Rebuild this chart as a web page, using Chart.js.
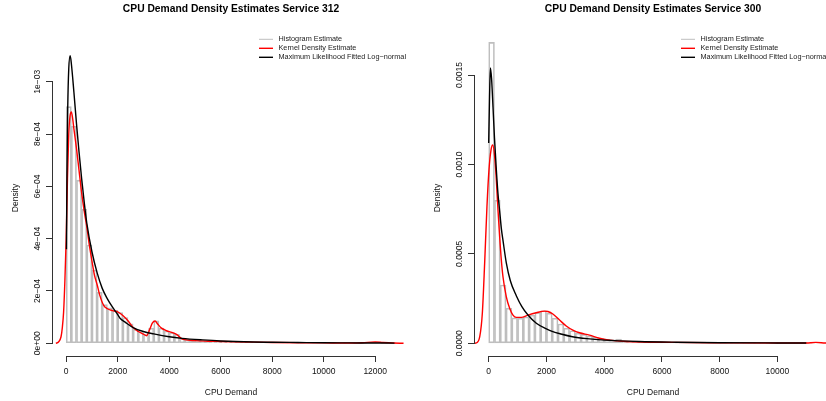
<!DOCTYPE html>
<html>
<head>
<meta charset="utf-8">
<script src="https://cdn.jsdelivr.net/npm/chart.js@4.4.1/dist/chart.umd.min.js"></script>
<style>
  html, body { margin: 0; padding: 0; background: #fff; }
  #wrap { position: relative; width: 826px; height: 401px; overflow: hidden; background: #fff; }
  canvas { position: absolute; top: 0; }
  #c312 { left: 0; }
  #c300 { left: 422px; }
</style>
</head>
<body>
<div id="wrap">
  <canvas id="c312" width="422" height="401"></canvas>
  <canvas id="c300" width="422" height="401"></canvas>
</div>
<script>
// all density values below are in units of 1e-4
const binWidth = 200;

// Service 312
const histLeft = [9.05, 8.3, 6.24, 5.12, 3.76, 2.8, 1.95, 1.48, 1.36, 1.26,
  1.17, 0.98, 0.74, 0.53, 0.45, 0.33, 0.58, 0.86, 0.58, 0.47,
  0.41, 0.34, 0.19, 0.15, 0.12, 0.10, 0.09, 0.08, 0.07, 0.06,
  0.05, 0.05, 0.045, 0.04, 0.035, 0.03, 0.03, 0.025, 0.025, 0.02,
  0.02, 0.02, 0.015, 0.015, 0.015, 0.01, 0.01, 0.01, 0.01, 0.01,
  0.01, 0.01, 0.01, 0.01, 0.005, 0.005, 0.01, 0.02, 0.03, 0.02,
  0.03, 0.02, 0.01, 0.005];
const kdeLeftX = [-400, -300, -200, -150, -100, -50, 0, 50, 100, 150, 200, 250, 300,
  400, 500, 600, 700, 800, 900, 1000, 1100, 1200, 1300, 1450, 1600, 1800, 2000,
  2200, 2400, 2600, 2800, 3000, 3120, 3250, 3350, 3450, 3550, 3700, 3900,
  4100, 4300, 4450, 4600, 5000, 5500, 6000, 7000, 8000, 9000, 10000,
  11000, 11500, 12000, 12300, 12700, 13100];
const kdeLeftY = [0, 0.05, 0.25, 0.6, 1.2, 2.4, 4.0, 6.3, 8.0, 8.7, 8.85, 8.6, 8.2,
  7.45, 6.6, 5.75, 5.05, 4.46, 3.75, 3.15, 2.6, 2.25, 1.85, 1.46, 1.32, 1.25, 1.2,
  1.06, 0.86, 0.6, 0.45, 0.35, 0.29, 0.55, 0.78, 0.85, 0.74, 0.58, 0.48,
  0.42, 0.33, 0.2, 0.14, 0.1, 0.08, 0.07, 0.05, 0.03, 0.02, 0.015,
  0.01, 0.02, 0.05, 0.03, 0.01, 0];
const lnLeftX = [10, 30, 60, 100, 155, 200, 300, 400, 500, 600, 700, 800, 1000, 1200, 1400,
  1600, 1800, 2000, 2100, 2300, 2600, 3000, 3400, 4000, 4500, 5300, 6000, 7260, 8000, 9000,
  10000, 11000, 12000, 12750];
const lnLeftY = [3.6, 6.5, 9.0, 10.5, 11.0, 10.7, 9.6, 8.4, 7.3, 6.3, 5.4, 4.6, 3.5, 2.7, 2.1,
  1.7, 1.38, 1.1, 0.95, 0.8, 0.6, 0.45, 0.36, 0.25, 0.19, 0.13, 0.09, 0.05, 0.04, 0.03,
  0.02, 0.015, 0.01, 0.008];

// Service 300
const histRight = [16.83, 8.0, 3.26, 1.96, 1.42, 1.40, 1.48, 1.58, 1.72, 1.82,
  1.68, 1.40, 1.08, 0.84, 0.70, 0.56, 0.50, 0.41, 0.34, 0.26,
  0.22, 0.19, 0.24, 0.13, 0.11, 0.09, 0.08, 0.07, 0.06, 0.05,
  0.05, 0.04, 0.04, 0.035, 0.03, 0.03, 0.025, 0.025, 0.02, 0.02,
  0.02, 0.015, 0.015, 0.015, 0.01, 0.01, 0.01, 0.01, 0.01, 0.01,
  0.01, 0.005, 0.005, 0.005, 0.005, 0.01, 0.03];
const kdeRightX = [-550, -430, -310, -220, -140, -60, 10, 80, 138, 207, 265, 322, 380, 438, 495,
  611, 726, 841, 957, 1130, 1360, 1648, 1935, 2050, 2223, 2454, 2685, 2914, 3146, 3491,
  3837, 4183, 4760, 6370, 8000, 10000, 11000, 11330, 11650, 11900];
const kdeRightY = [0, 0.02, 0.37, 1.68, 4.47, 7.64, 9.7, 10.8, 11.09, 10.44, 9.13, 7.45, 5.96, 4.66, 3.72,
  2.6, 1.96, 1.58, 1.45, 1.45, 1.58, 1.71, 1.8, 1.78, 1.64, 1.3, 0.97, 0.74, 0.59, 0.46,
  0.28, 0.18, 0.1, 0.05, 0.03, 0.015, 0.02, 0.05, 0.02, 0.01];
const lnRightX = [0, 30, 60, 100, 150, 200, 265, 320, 380, 440, 500, 610, 750, 960, 1150,
  1360, 1650, 2000, 2220, 2500, 2900, 3400, 4000, 5200, 6500, 8000, 10000, 11000];
const lnRightY = [11.2, 13.8, 15.4, 14.8, 13.2, 11.5, 9.7, 8.4, 7.4, 6.4, 5.7, 4.5, 3.5, 2.65, 2.05,
  1.58, 1.12, 0.8, 0.65, 0.52, 0.37, 0.26, 0.18, 0.1, 0.06, 0.035, 0.02, 0.015];

// ticks
const xTicksLeft = [0, 2000, 4000, 6000, 8000, 10000, 12000];
const xTicksRight = [0, 2000, 4000, 6000, 8000, 10000];
const yTicksLeft = [0, 2e-4, 4e-4, 6e-4, 8e-4, 1e-3];
const yLabelsLeft = ['0e+00', '2e\u221204', '4e\u221204', '6e\u221204', '8e\u221204', '1e\u221203'];
const yTicksRight = [0, 5e-4, 1e-3, 1.5e-3];
const yLabelsRight = ['0.0000', '0.0005', '0.0010', '0.0015'];

const legendLabels = ['Histogram Estimate', 'Kernel Density Estimate', 'Maximum Likelihood Fitted Log\u2212normal'];

const FAMILY = '"Liberation Sans", Arial, Helvetica, sans-serif';
const TEXT = '#111';
const AXIS = '#333';
const HIST = '#BEBEBE';
const RED = '#FF0000';
const BLACK = '#000000';

const pts = (xs, ys) => xs.map((x, i) => ({ x: x, y: ys[i] * 1e-4 }));
const bars = hs => hs.map((h, i) => ({ x: i * binWidth + binWidth / 2, y: h * 1e-4 }));

// R-like decorations: axis lines only across the tick range, rotated y labels, legend
const rStyle = {
  id: 'rStyle',
  afterDraw(chart, args, o) {
    const { ctx, chartArea: a } = chart;
    const x = chart.scales.x, y = chart.scales.y;
    ctx.save();
    ctx.strokeStyle = AXIS;
    ctx.lineWidth = 1;
    ctx.beginPath();
    const by = Math.round(a.bottom) + 0.5;
    ctx.moveTo(x.getPixelForValue(o.xTicks[0]), by);
    ctx.lineTo(x.getPixelForValue(o.xTicks[o.xTicks.length - 1]), by);
    const lx = Math.round(a.left) - 0.5;
    ctx.moveTo(lx, y.getPixelForValue(o.yTicks[0]));
    ctx.lineTo(lx, y.getPixelForValue(o.yTicks[o.yTicks.length - 1]));
    ctx.stroke();

    ctx.fillStyle = TEXT;
    ctx.font = '8.5px ' + FAMILY;
    ctx.textAlign = 'center';
    ctx.textBaseline = 'middle';
    o.yTicks.forEach((v, i) => {
      ctx.save();
      ctx.translate(a.left - 15, y.getPixelForValue(v));
      ctx.rotate(-Math.PI / 2);
      ctx.fillText(o.yLabels[i], 0, 0);
      ctx.restore();
    });

    // legend, top right of the plot region
    const colors = [HIST, RED, BLACK];
    const widths = [1, 1.4, 1.4];
    ctx.font = '7.3px ' + FAMILY;
    ctx.textAlign = 'left';
    legendLabels.forEach((lab, i) => {
      const ly = 39.3 + i * 9;
      ctx.strokeStyle = colors[i];
      ctx.lineWidth = widths[i];
      ctx.beginPath();
      ctx.moveTo(a.right - 150, ly);
      ctx.lineTo(a.right - 136, ly);
      ctx.stroke();
      ctx.fillStyle = '#222';
      ctx.fillText(lab, a.right - 130.5, ly);
    });
    ctx.restore();
  }
};

function makeChart(id, s) {
  const axisFont = { family: FAMILY, size: 8.5 };
  return new Chart(document.getElementById(id), {
    type: 'line',
    data: {
      datasets: [
        {
          label: legendLabels[2], data: pts(s.lnX, s.lnY), order: 0,
          borderColor: BLACK, borderWidth: 1.4, pointRadius: 0,
          cubicInterpolationMode: 'monotone', fill: false
        },
        {
          label: legendLabels[1], data: pts(s.kdeX, s.kdeY), order: 1,
          borderColor: RED, borderWidth: 1.4, pointRadius: 0,
          cubicInterpolationMode: 'monotone', fill: false
        },
        {
          type: 'bar', label: legendLabels[0], data: bars(s.hist), order: 2,
          backgroundColor: 'rgba(255,255,255,0)', borderColor: HIST, borderWidth: 1,
          borderSkipped: false, barPercentage: 1, categoryPercentage: 1
        }
      ]
    },
    options: {
      responsive: false,
      animation: false,
      events: [],
      layout: { padding: { left: 0, right: 13, top: 0, bottom: 0 } },
      plugins: {
        legend: { display: false },
        tooltip: { enabled: false },
        title: {
          display: true, text: s.title, fullSize: false, color: '#000',
          font: { family: FAMILY, size: 10.3, weight: 'bold' },
          padding: { top: 3.3, bottom: 24.3 }
        },
        rStyle: { xTicks: s.xTicks, yTicks: s.yTicks, yLabels: s.yLabels }
      },
      scales: {
        x: {
          type: 'linear', min: s.xMin, max: s.xMax, offset: false,
          afterBuildTicks: sc => { sc.ticks = s.xTicks.map(v => ({ value: v })); },
          afterFit: sc => { sc.height = 45; },
          border: { display: false },
          grid: { drawOnChartArea: false, drawTicks: true, tickLength: 6, tickColor: AXIS, offset: false },
          ticks: { color: TEXT, font: axisFont, padding: 4.9, maxRotation: 0, autoSkip: false,
                   callback: v => String(v) },
          title: { display: true, text: 'CPU Demand', color: TEXT, font: axisFont,
                   padding: { top: 0, bottom: 3.2 } }
        },
        y: {
          type: 'linear', min: s.yMin, max: s.yMax,
          afterBuildTicks: sc => { sc.ticks = s.yTicks.map(v => ({ value: v })); },
          afterFit: sc => { sc.width = 53; },
          border: { display: false },
          grid: { drawOnChartArea: false, drawTicks: true, tickLength: 7, tickColor: AXIS },
          ticks: { display: false },
          title: { display: true, text: 'Density', color: TEXT, font: axisFont,
                   padding: { top: 10.9, bottom: 0 } }
        }
      }
    },
    plugins: [rStyle]
  });
}

makeChart('c312', {
  title: 'CPU Demand Density Estimates Service 312',
  hist: histLeft, kdeX: kdeLeftX, kdeY: kdeLeftY, lnX: lnLeftX, lnY: lnLeftY,
  xTicks: xTicksLeft, yTicks: yTicksLeft, yLabels: yLabelsLeft,
  xMin: -512, xMax: 13312, yMin: -0.0486e-3, yMax: 1.1599e-3
});

makeChart('c300', {
  title: 'CPU Demand Density Estimates Service 300',
  hist: histRight, kdeX: kdeRightX, kdeY: kdeRightY, lnX: lnRightX, lnY: lnRightY,
  xTicks: xTicksRight, yTicks: yTicksRight, yLabels: yLabelsRight,
  xMin: -474, xMax: 11856, yMin: -0.0710e-3, yMax: 1.6963e-3
});
</script>
</body>
</html>
